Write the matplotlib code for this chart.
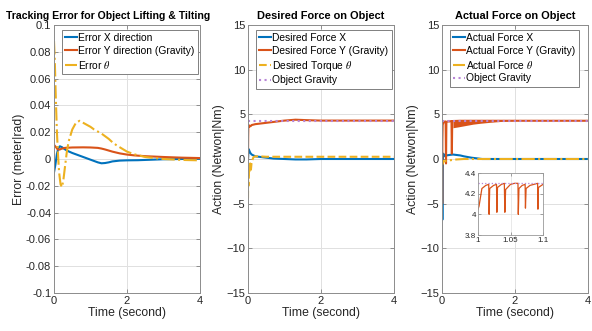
import numpy as np
import matplotlib.pyplot as plt

plt.rcParams['font.family'] = ['Liberation Sans', 'DejaVu Sans']
plt.rcParams['mathtext.fontset'] = 'stix'

BLUE = (0.0, 0.447, 0.741)
RED = (0.85, 0.325, 0.098)
YELLOW = (0.929, 0.694, 0.125)
PURPLE = (0.72, 0.52, 0.84)

# ---- panel 1: tracking error ----
t_err_x = [0, 0.04, 0.08, 0.12, 0.16, 0.22, 0.3, 0.4, 0.5, 0.6, 0.7, 0.8, 0.9, 1.0, 1.1,
           1.2, 1.3, 1.4, 1.5, 1.6, 1.8, 2.0, 2.3, 2.6, 3.0, 3.5, 4.0]
err_x = [-0.010, -0.004, 0.004, 0.008, 0.0095, 0.0088, 0.0072, 0.0057, 0.0045, 0.0035, 0.0025,
         0.0015, 0.0005, -0.0005, -0.0015, -0.0025, -0.0032, -0.003, -0.0025, -0.0018,
         -0.0012, -0.001, -0.0009, -0.0006, -0.0002, 0.0, 0.0002]

t_err_y = [0, 0.05, 0.1, 0.15, 0.2, 0.3, 0.5, 0.8, 1.0, 1.2, 1.3, 1.4, 1.5, 1.6, 1.8, 2.0,
           2.2, 2.5, 3.0, 3.5, 4.0]
err_y = [0.0105, 0.009, 0.0072, 0.0070, 0.0076, 0.0083, 0.0086, 0.0087, 0.0086, 0.0083, 0.0078,
         0.0071, 0.0063, 0.0055, 0.0042, 0.0033, 0.0027, 0.0021, 0.0015, 0.001, 0.0007]

t_err_th = [0, 0.02, 0.05, 0.08, 0.11, 0.14, 0.18, 0.22, 0.26, 0.3, 0.35, 0.4, 0.5, 0.6, 0.7,
            0.8, 0.9, 1.0, 1.1, 1.2, 1.3, 1.4, 1.5, 1.6, 1.7, 1.8, 2.0, 2.2, 2.5, 3.0, 3.5, 4.0]
err_th = [0.088, 0.075, 0.045, 0.02, 0.003, -0.01, -0.019, -0.021, -0.015, -0.006, 0.005,
          0.013, 0.022, 0.027, 0.0285, 0.027, 0.0255, 0.024, 0.022, 0.0205, 0.019, 0.017,
          0.015, 0.0125, 0.0105, 0.0088, 0.0055, 0.0035, 0.0015, 0.0, -0.0007, -0.001]

# ---- panel 2: desired force ----
t_des = [0, 0.005, 0.01, 0.02, 0.04, 0.06, 0.08, 0.1, 0.15, 0.2, 0.3, 0.5, 0.7, 1.0, 1.3,
         1.6, 2.0, 3.0, 4.0]
des_x = [0, 0.3, 0.8, 1.1, 0.9, 0.7, 0.6, 0.5, 0.4, 0.3, 0.25, 0.15, 0.05, 0.0, -0.05,
         -0.05, 0, 0, 0]
des_y = [0, 2.5, 3.6, 3.8, 3.6, 3.7, 3.7, 3.8, 3.85, 3.9, 3.95, 4.05, 4.15, 4.3, 4.4,
         4.35, 4.3, 4.3, 4.3]
des_th = [-4.4, -1.0, -3.0, -0.8, -1.5, -0.5, -1.2, -0.3, 0.2, 0.3, 0.3, 0.25, 0.25, 0.25,
          0.25, 0.25, 0.25, 0.25, 0.25]

# ---- panel 3: actual force ----
act_t_x = [0, 0.005, 0.01, 0.02, 0.03, 0.05, 0.08, 0.12, 0.2, 0.3, 0.4, 0.5, 0.6, 0.8, 0.9,
           1.1, 1.5, 2, 3, 4]
act_x = [0, -4.0, -6.8, -1.0, 0.6, 0.3, 0.5, 0.4, 0.45, 0.5, 0.45, 0.4, 0.3, 0.15, 0.1,
         0.0, 0, 0, 0, 0]

act_t_y = [0, 0.005, 0.01, 0.02, 0.03, 0.05, 0.08, 0.10, 0.11, 0.12, 0.15, 0.2, 0.26, 0.27,
           0.28, 0.3, 0.5, 0.8, 1.0, 1.2, 1.6, 2, 3, 4]
act_y = [0, -5.0, 2.0, 4.2, 4.0, 4.1, 4.2, 4.2, -0.5, 4.1, 4.2, 4.2, 4.25, 0.6, 4.2, 4.25,
         4.28, 4.28, 4.28, 4.28, 4.28, 4.28, 4.28, 4.28]
band_t = [0.3, 0.45, 0.65, 0.85, 1.05, 1.3, 1.6, 2.0]
band_lo = [3.5, 3.6, 3.75, 3.9, 4.0, 4.1, 4.2, 4.3]
band_hi = [4.3, 4.3, 4.3, 4.3, 4.3, 4.3, 4.3, 4.3]

act_t_th = [0, 0.01, 0.02, 0.05, 0.1, 0.2, 0.3, 0.4, 0.6, 1, 2, 4]
act_th = [0, -0.6, -0.2, -0.3, -0.2, -0.15, -0.1, -0.05, 0, 0, 0, 0]

gravity = 4.3
t_grav = [0, 4]

# inset zoom of actual force Y
inset_t = [1.000, 1.0016, 1.006, 1.012, 1.0165, 1.0171, 1.018, 1.024, 1.0285, 1.029, 1.030,
           1.036, 1.0405, 1.0413, 1.0425, 1.050, 1.056, 1.0615, 1.062, 1.063, 1.068, 1.0725,
           1.073, 1.074, 1.080, 1.086, 1.0917, 1.0922, 1.093, 1.100]
inset_y = [4.05, 4.08, 4.25, 4.28, 4.29, 4.0, 4.25, 4.28, 4.29, 4.02, 4.26, 4.29, 4.30,
           4.02, 4.24, 4.29, 4.30, 4.30, 4.0, 4.25, 4.28, 4.29, 4.06, 4.25, 4.28, 4.29,
           4.30, 4.05, 4.26, 4.29]

fig = plt.figure(figsize=(5.92, 3.31), dpi=100)
lefts = [54 / 592, 248 / 592, 442 / 592]
axes = [fig.add_axes([l, 38 / 331, 146 / 592, 268 / 331]) for l in lefts]


def style(ax, ylim, yticks):
    ax.set_xlim(0, 4)
    ax.set_ylim(*ylim)
    ax.set_xticks([0, 2, 4])
    ax.set_yticks(yticks)
    ax.grid(True, color='0.88', lw=0.7)
    ax.set_axisbelow(True)
    ax.tick_params(direction='in', labelsize=8, colors='0.5', labelcolor='0.15',
                   length=3, width=0.6, top=True, right=True, pad=2)
    for s in ax.spines.values():
        s.set_color('0.55')
        s.set_linewidth(0.7)
    ax.set_xlabel('Time (second)', fontsize=8.8, color='0.15', labelpad=1)


def legend(ax):
    leg = ax.legend(loc='upper left', bbox_to_anchor=(0.04, 0.99), fontsize=7.4,
                    handlelength=1.15, handletextpad=0.15, borderpad=0.3,
                    labelspacing=0.28, borderaxespad=0.2, fancybox=False, framealpha=1)
    leg.get_frame().set_edgecolor('0.5')
    leg.get_frame().set_linewidth(0.7)


ax = axes[0]
ax.plot(t_err_x, err_x, color=BLUE, lw=1.5, label='Error X direction')
ax.plot(t_err_y, err_y, color=RED, lw=1.5, label='Error Y direction (Gravity)')
ax.plot(t_err_th, err_th, color=YELLOW, lw=1.5, ls='-.', label=r'Error $\theta$')
style(ax, (-0.1, 0.1), np.round(np.arange(-0.1, 0.101, 0.02), 2))
ax.set_yticklabels(['-0.1', '-0.08', '-0.06', '-0.04', '-0.02', '0', '0.02', '0.04',
                    '0.06', '0.08', '0.1'])
ax.set_ylabel('Error (meter|rad)', fontsize=8.8, color='0.15', labelpad=1)
ax.set_title('Tracking Error for Object Lifting & Tilting', fontsize=7.6, fontweight='bold',
             x=0.37, pad=4)
legend(ax)

ax = axes[1]
ax.plot(t_des, des_x, color=BLUE, lw=1.5, label='Desired Force X')
ax.plot(t_des, des_y, color=RED, lw=1.5, label='Desired Force Y (Gravity)')
ax.plot(t_des, des_th, color=YELLOW, lw=1.5, ls='--', label=r'Desired Torque $\theta$')
ax.plot(t_grav, [gravity, gravity], color=PURPLE, lw=1.5, ls=':', label='Object Gravity')
style(ax, (-15, 15), [-15, -10, -5, 0, 5, 10, 15])
ax.set_ylabel('Action (Netwon|Nm)', fontsize=8.8, color='0.15', labelpad=1)
ax.set_title('Desired Force on Object', fontsize=7.9, fontweight='bold', pad=4)
legend(ax)

ax = axes[2]
ax.plot(act_t_x, act_x, color=BLUE, lw=1.5, label='Actual Force X')
ax.plot(act_t_y, act_y, color=RED, lw=1.5, label='Actual Force Y (Gravity)')
ax.fill_between(band_t, band_lo, band_hi, color=RED, lw=0)
ax.plot(act_t_th, act_th, color=YELLOW, lw=1.5, ls='-.', label=r'Actual Force $\theta$')
ax.plot(t_grav, [gravity, gravity], color=PURPLE, lw=1.5, ls=':', label='Object Gravity')
style(ax, (-15, 15), [-15, -10, -5, 0, 5, 10, 15])
ax.set_ylabel('Action (Netwon|Nm)', fontsize=8.8, color='0.15', labelpad=1)
ax.set_title('Actual Force on Object', fontsize=7.9, fontweight='bold', pad=4)
legend(ax)

ins = fig.add_axes([478 / 592, (331 - 235) / 331, 65 / 592, 62 / 331])
ins.plot(inset_t, inset_y, color=RED, lw=0.9)
ins.plot([1.0, 1.1], [gravity, gravity], color=PURPLE, lw=0.9, ls=':')
ins.set_xlim(1.0, 1.1)
ins.set_ylim(3.8, 4.4)
ins.set_xticks([1.0, 1.05, 1.1])
ins.set_xticklabels(['1', '1.05', '1.1'])
ins.set_yticks([3.8, 4.0, 4.2, 4.4])
ins.set_yticklabels(['3.8', '4', '4.2', '4.4'])
ins.grid(True, color='0.88', lw=0.5)
ins.tick_params(direction='in', labelsize=5.8, colors='0.5', labelcolor='0.15',
                length=2, width=0.5, top=True, right=True, pad=1.5)
for s in ins.spines.values():
    s.set_color('0.6')
    s.set_linewidth(0.6)

fig.savefig('out.png', dpi=100)
